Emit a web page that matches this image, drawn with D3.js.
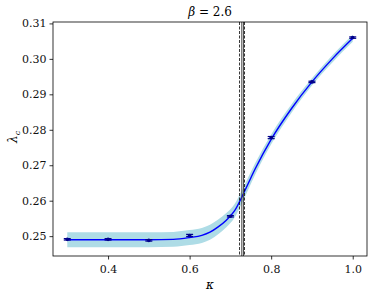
<!DOCTYPE html>
<html>
<head>
<meta charset="utf-8">
<script src="https://cdn.jsdelivr.net/npm/d3@7"></script>
<style>
  body { margin: 0; background: #fff; }
  text { font-family: "DejaVu Serif", serif; }
</style>
</head>
<body>
<div id="chart"></div>
<script>
// measured points
var kappa = [0.3, 0.4, 0.5, 0.6, 0.7, 0.8, 0.9, 1.0];
var lambda = [0.2491, 0.2491, 0.2488, 0.2502, 0.2556, 0.2778, 0.2935, 0.3060];
var lambdaErr = [0.0002, 0.0002, 0.0002, 0.0003, 0.0002, 0.0003, 0.0002, 0.0002];

// fitted curve and its band
var fitKappa = [0.30, 0.40, 0.50, 0.56, 0.60, 0.63, 0.65, 0.67, 0.69, 0.71, 0.73, 0.76, 0.80, 0.85, 0.90, 0.95, 1.00];
var fitLambda = [0.2490, 0.2490, 0.2490, 0.2491, 0.2496, 0.2502, 0.2511, 0.2526, 0.2545, 0.2571, 0.2615, 0.2688, 0.2773, 0.2860, 0.2935, 0.3000, 0.3058];
var fitHalf = [0.0021, 0.0021, 0.0021, 0.0021, 0.0021, 0.0021, 0.0021, 0.0021, 0.0020, 0.0019, 0.0018, 0.0016, 0.0014, 0.0012, 0.0010, 0.0010, 0.0010];

// critical kappa estimates
var solidLines = [0.7280, 0.7320];
var dashedLines = [0.7224, 0.7346];

var xTicks = [0.4, 0.6, 0.8, 1.0];
var yTicks = [0.25, 0.26, 0.27, 0.28, 0.29, 0.30, 0.31];

var margin = {top: 22, right: 7, bottom: 41, left: 53};
var width = 374 - margin.left - margin.right,
    height = 297 - margin.top - margin.bottom;

var svg = d3.select("#chart").append("svg")
    .attr("width", 374)
    .attr("height", 297);

var g = svg.append("g")
    .attr("transform", "translate(" + margin.left + "," + margin.top + ")");

var x = d3.scaleLinear().domain([0.265, 1.035]).range([0, width]);
var y = d3.scaleLinear().domain([0.2444, 0.3104]).range([height, 0]);

var fit = fitKappa.map(function(k, i) {
    return {k: k, v: fitLambda[i], h: fitHalf[i]};
});

var area = d3.area()
    .curve(d3.curveMonotoneX)
    .x(function(d) { return x(d.k); })
    .y0(function(d) { return y(d.v - d.h); })
    .y1(function(d) { return y(d.v + d.h); });

g.append("path")
    .datum(fit)
    .attr("fill", "#aedce6")
    .attr("d", area);

var line = d3.line()
    .curve(d3.curveMonotoneX)
    .x(function(d) { return x(d.k); })
    .y(function(d) { return y(d.v); });

g.append("path")
    .datum(fit)
    .attr("fill", "none")
    .attr("stroke", "#0000ff")
    .attr("stroke-width", 1.4)
    .attr("d", line);

// vertical lines
g.selectAll(".solid").data(solidLines).enter().append("line")
    .attr("x1", x).attr("x2", x)
    .attr("y1", 0).attr("y2", height)
    .attr("stroke", "#444")
    .attr("stroke-width", 1);

g.selectAll(".dashed").data(dashedLines).enter().append("line")
    .attr("x1", x).attr("x2", x)
    .attr("y1", 0).attr("y2", height)
    .attr("stroke", "#000")
    .attr("stroke-width", 0.8)
    .attr("stroke-dasharray", "3,1.5");

// error bars
var pts = kappa.map(function(k, i) {
    return {k: k, v: lambda[i], e: lambdaErr[i]};
});

var eb = g.selectAll(".eb").data(pts).enter().append("g");
eb.append("line")
    .attr("x1", function(d) { return x(d.k); })
    .attr("x2", function(d) { return x(d.k); })
    .attr("y1", function(d) { return y(d.v - d.e); })
    .attr("y2", function(d) { return y(d.v + d.e); })
    .attr("stroke", "#00008b").attr("stroke-width", 1.2);
[-1, 1].forEach(function(s) {
    eb.append("line")
        .attr("x1", function(d) { return x(d.k) - 3.5; })
        .attr("x2", function(d) { return x(d.k) + 3.5; })
        .attr("y1", function(d) { return y(d.v + s * d.e); })
        .attr("y2", function(d) { return y(d.v + s * d.e); })
        .attr("stroke", "#00008b").attr("stroke-width", 1.2);
});
eb.append("circle")
    .attr("cx", function(d) { return x(d.k); })
    .attr("cy", function(d) { return y(d.v); })
    .attr("r", 1.8)
    .attr("fill", "#00008b");

// axes
var xAxis = g.append("g")
    .attr("transform", "translate(0," + height + ")")
    .call(d3.axisBottom(x).tickValues(xTicks).tickFormat(d3.format(".1f")).tickSizeOuter(0).tickSize(3.5));
var yAxis = g.append("g")
    .call(d3.axisLeft(y).tickValues(yTicks).tickFormat(d3.format(".2f")).tickSizeOuter(0).tickSize(3.5));

[xAxis, yAxis].forEach(function(a) {
    a.select(".domain").remove();
    a.selectAll(".tick line").attr("stroke", "#000").attr("stroke-width", 0.8);
    a.selectAll(".tick text").attr("font-size", 11).attr("fill", "#111")
        .style("font-family", "'DejaVu Serif', serif");
});
xAxis.selectAll(".tick text").attr("dy", "0.95em");

g.append("rect")
    .attr("width", width)
    .attr("height", height)
    .attr("fill", "none")
    .attr("stroke", "#000")
    .attr("stroke-width", 0.8);

// labels
svg.append("text")
    .attr("x", margin.left + width / 2)
    .attr("y", 16)
    .attr("text-anchor", "middle")
    .attr("font-size", 12)
    .html("<tspan font-style='italic'>β</tspan> = 2.6");

svg.append("text")
    .attr("x", margin.left + width / 2)
    .attr("y", 289)
    .attr("text-anchor", "middle")
    .attr("font-size", 12)
    .attr("font-style", "italic")
    .text("κ");

svg.append("text")
    .attr("transform", "translate(17," + (margin.top + y(0.278)) + ")rotate(-90)")
    .attr("text-anchor", "middle")
    .attr("font-size", 12)
    .html("<tspan font-style='italic'>λ</tspan><tspan font-size='8' dy='3' font-style='italic'>c</tspan>");
</script>
</body>
</html>
